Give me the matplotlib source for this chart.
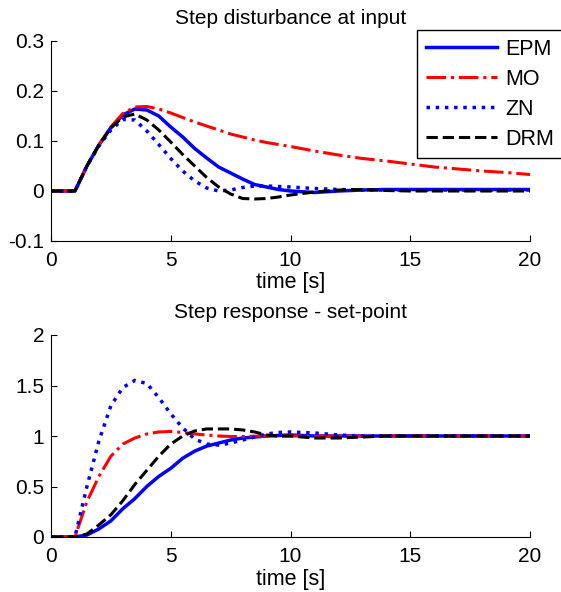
import numpy as np
import matplotlib.pyplot as plt

plt.rcParams['font.family'] = ['Liberation Sans', 'DejaVu Sans']

# --- Data: step disturbance at input ---
t_d = [0, 1, 1.5, 2, 2.5, 3, 3.5, 4, 4.5, 5, 5.5, 6, 6.5, 7, 7.5, 8, 8.5, 9, 9.5,
       10, 11, 12, 13, 14, 15, 16, 17, 18, 19, 20]
epm_d = [0, 0, 0.05, 0.092, 0.127, 0.152, 0.164, 0.162, 0.15, 0.128, 0.108, 0.085,
         0.066, 0.048, 0.036, 0.024, 0.013, 0.008, 0.003, 0.0, -0.003, 0.0, 0.002,
         0.003, 0.003, 0.003, 0.003, 0.003, 0.003, 0.003]
mo_d = [0, 0, 0.05, 0.092, 0.128, 0.155, 0.168, 0.169, 0.164, 0.156, 0.147, 0.138,
        0.13, 0.122, 0.114, 0.108, 0.102, 0.097, 0.093, 0.089, 0.080, 0.072, 0.065,
        0.060, 0.054, 0.048, 0.044, 0.040, 0.037, 0.033]
zn_d = [0, 0, 0.05, 0.09, 0.122, 0.143, 0.142, 0.12, 0.093, 0.065, 0.04, 0.02,
        0.006, 0.0, 0.002, 0.007, 0.01, 0.01, 0.009, 0.008, 0.005, 0.003, 0.002,
        0.002, 0.002, 0.002, 0.002, 0.002, 0.002, 0.002]
drm_d = [0, 0, 0.05, 0.092, 0.126, 0.148, 0.154, 0.142, 0.122, 0.098, 0.073, 0.05,
         0.027, 0.008, -0.006, -0.015, -0.016, -0.015, -0.012, -0.008, -0.002,
         0.002, 0.003, 0.001, 0.0, 0.0, 0.0, 0.0, 0.0, 0.0]

# --- Data: step response - set-point ---
t_s = [0, 1, 1.5, 2, 2.5, 3, 3.5, 4, 4.5, 5, 5.5, 6, 6.5, 7, 7.5, 8, 8.5, 9, 9.5,
       10, 11, 12, 13, 14, 15, 16, 17, 18, 19, 20]
epm_s = [0, 0, 0.02, 0.08, 0.16, 0.28, 0.38, 0.5, 0.6, 0.68, 0.78, 0.85, 0.9,
         0.93, 0.96, 0.98, 0.99, 1.0, 1.005, 1.01, 1.0, 1.0, 1.0, 1.0, 1.0, 1.0,
         1.0, 1.0, 1.0, 1.0]
mo_s = [0, 0, 0.35, 0.6, 0.8, 0.92, 0.98, 1.02, 1.04, 1.045, 1.035, 1.02, 1.01,
        1.0, 0.995, 0.995, 0.998, 1.0, 1.0, 1.0, 1.0, 1.0, 1.0, 1.0, 1.0, 1.0, 1.0,
        1.0, 1.0, 1.0]
zn_s = [0, 0, 0.5, 0.95, 1.3, 1.48, 1.55, 1.52, 1.38, 1.22, 1.08, 0.97, 0.92,
        0.91, 0.93, 0.96, 0.99, 1.02, 1.035, 1.04, 1.03, 1.01, 1.0, 1.0, 1.0, 1.0,
        1.0, 1.0, 1.0, 1.0]
drm_s = [0, 0, 0.03, 0.12, 0.22, 0.36, 0.52, 0.66, 0.8, 0.92, 1.0, 1.05, 1.07,
         1.07, 1.07, 1.06, 1.04, 1.01, 1.0, 1.0, 0.98, 0.98, 0.99, 1.0, 1.0, 1.0,
         1.0, 1.0, 1.0, 1.0]

labels = ["EPM", "MO", "ZN", "DRM"]
styles = [dict(color="#0000ff", ls="-", lw=2.5),
          dict(color="#ff0000", ls="-.", lw=2.2),
          dict(color="#0000ff", ls=":", lw=2.5),
          dict(color="black", ls="--", lw=2.2)]

fig = plt.figure(figsize=(5.61, 5.92), dpi=100)
W, H = 561, 592
ax1 = fig.add_axes([51 / W, 1 - 241 / H, 479 / W, 200 / H])
ax2 = fig.add_axes([51 / W, 1 - 537 / H, 479 / W, 202 / H])


def style_axes(ax):
    for s in ["top", "right"]:
        ax.spines[s].set_visible(False)
    ax.tick_params(direction="in", labelsize=15, length=4)
    ax.tick_params(axis="x", pad=7)
    ax.tick_params(axis="y", pad=5)
    ax.set_xlim(0, 20)
    ax.set_xticks([0, 5, 10, 15, 20])
    ax.set_xlabel("time [s]", fontsize=15.5, labelpad=2)


for y, lab, st in zip([epm_d, mo_d, zn_d, drm_d], labels, styles):
    ax1.plot(t_d, y, label=lab, **st)
style_axes(ax1)
ax1.set_ylim(-0.1, 0.3)
ax1.set_yticks([-0.1, 0, 0.1, 0.2, 0.3])
ax1.set_yticklabels(["-0.1", "0", "0.1", "0.2", "0.3"])
ax1.set_title("Step disturbance at input", fontsize=15, pad=12)

leg = ax1.legend(loc="upper left", bbox_to_anchor=(417 / W, 1 - 30 / H),
                 bbox_transform=fig.transFigure, fontsize=15.5, frameon=True,
                 fancybox=False, framealpha=1, edgecolor="black",
                 handlelength=3.3, borderaxespad=0, labelspacing=0.42,
                 borderpad=0.4, handletextpad=0.4)
leg.get_frame().set_linewidth(1.0)

for y, lab, st in zip([epm_s, mo_s, zn_s, drm_s], labels, styles):
    ax2.plot(t_s, y, label=lab, **st)
style_axes(ax2)
ax2.set_ylim(0, 2)
ax2.set_yticks([0, 0.5, 1, 1.5, 2])
ax2.set_yticklabels(["0", "0.5", "1", "1.5", "2"])
ax2.set_title("Step response - set-point", fontsize=15, pad=12)

fig.savefig("out.png", dpi=100)
